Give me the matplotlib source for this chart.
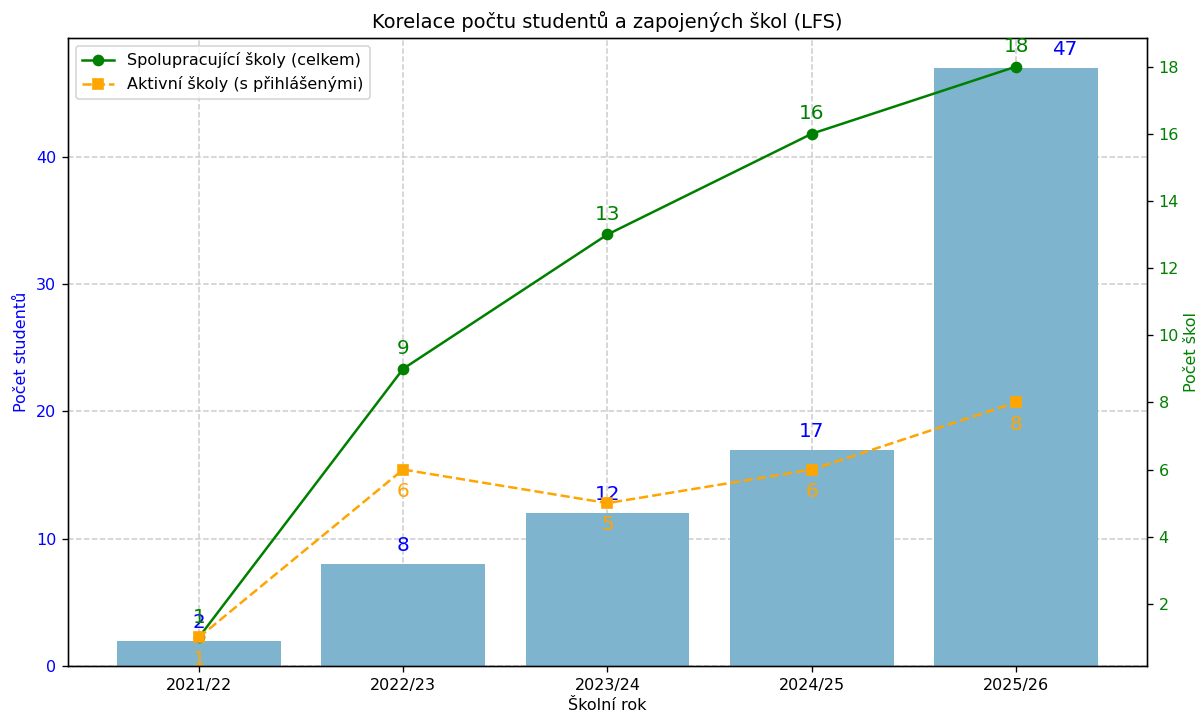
import numpy as np
import matplotlib
matplotlib.use('Agg')
import matplotlib.pyplot as plt
from matplotlib.ticker import MaxNLocator

plt.rcParams['font.size'] = 9.6

# data
roky = ['2021/22', '2022/23', '2023/24', '2024/25', '2025/26']
studenti = [2, 8, 12, 17, 47]
skoly_celkem = [1, 9, 13, 16, 18]
skoly_aktivni = [1, 6, 5, 6, 8]

x = np.arange(len(roky))

fig, ax1 = plt.subplots(figsize=(1201 / 120, 716 / 120), dpi=120)

ax1.bar(x, studenti, width=0.8, color='#7fb4cf', zorder=2)
ax1.set_axisbelow(True)
ax1.grid(True, linestyle='--', color='#cccccc', linewidth=0.9, zorder=0)
ax1.set_xticks(x)
ax1.set_xticklabels(roky)
ax1.set_xlabel('Školní rok', labelpad=3)
ax1.set_ylabel('Počet studentů', color='blue')
ax1.tick_params(axis='y', labelcolor='blue')

# popisky sloupcu
for i, v in enumerate(studenti):
    dx = 29 if i == len(studenti) - 1 else 0
    ax1.annotate(str(v), (x[i], v), xytext=(dx, 11), textcoords='offset points',
                 ha='center', va='center', color='blue', fontsize=12)

ax2 = ax1.twinx()
ax2.plot(x, skoly_celkem, '-o', color='green', linewidth=1.5, markersize=6,
         label='Spolupracující školy (celkem)')
ax2.plot(x, skoly_aktivni, '--s', color='orange', linewidth=1.5, markersize=6,
         label='Aktivní školy (s přihlášenými)')
ax2.set_ylabel('Počet škol', color='green', labelpad=3)
ax2.tick_params(axis='y', labelcolor='green')
ax2.yaxis.set_major_locator(MaxNLocator(integer=True))

for i, v in enumerate(skoly_celkem):
    ax2.annotate(str(v), (x[i], v), xytext=(0, 12), textcoords='offset points',
                 ha='center', va='center', color='green', fontsize=12)
for i, v in enumerate(skoly_aktivni):
    ax2.annotate(str(v), (x[i], v), xytext=(0, -13), textcoords='offset points',
                 ha='center', va='center', color='orange', fontsize=12)

ax2.legend(loc='upper left')
ax1.set_title('Korelace počtu studentů a zapojených škol (LFS)', fontsize=11.6)

fig.subplots_adjust(left=68 / 1201, right=1147 / 1201, top=1 - 38 / 716, bottom=1 - 666 / 716)
plt.savefig('out.png', dpi=120)
